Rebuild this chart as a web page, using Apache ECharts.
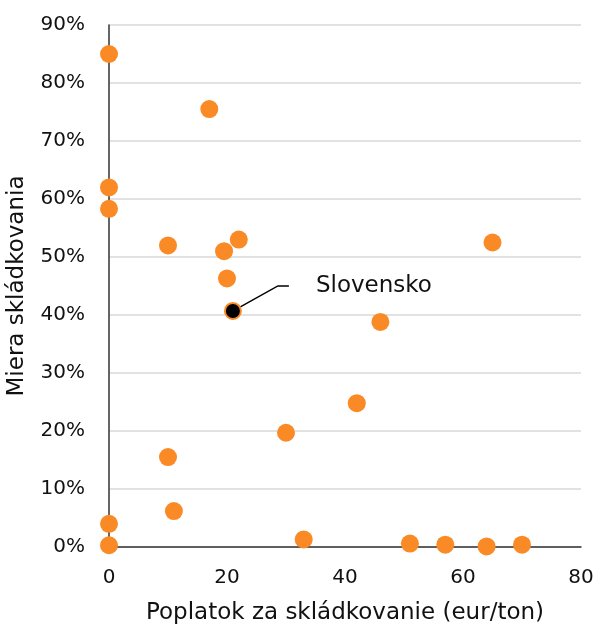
<!DOCTYPE html>
<html>
<head>
<meta charset="utf-8">
<script src="https://cdn.jsdelivr.net/npm/echarts@6/dist/echarts.min.js"></script>
<style>html,body{margin:0;padding:0;background:#fff;}#c{width:598px;height:625px;}</style>
</head>
<body>
<div id="c"></div>
<script>
var fees = [0, 0, 0, 0, 0, 17, 10, 19.5, 22, 20, 46, 65, 42, 30, 10, 11, 33, 51, 57, 64, 70];
var rates = [85, 62, 58.3, 4, 0.3, 75.5, 52, 51, 53, 46.3, 38.8, 52.5, 24.8, 19.7, 15.5, 6.2, 1.3, 0.6, 0.4, 0.1, 0.4];
var highlightName = 'Slovensko';
var highlightFee = 21;
var highlightRate = 40.7;
var xTicks = [0, 20, 40, 60, 80];
var yTicks = [0, 10, 20, 30, 40, 50, 60, 70, 80, 90];

var FONT = 'DejaVu Sans';
var chart = echarts.init(document.getElementById('c'));
var pts = fees.map(function (f, i) { return [f, rates[i]]; });
chart.setOption({
  animation: false,
  grid: { left: 109, right: 17, top: 25, bottom: 78, containLabel: false, outerBoundsMode: 'none' },
  xAxis: {
    type: 'value', min: xTicks[0], max: xTicks[xTicks.length - 1], interval: xTicks[1] - xTicks[0],
    name: 'Poplatok za skládkovanie (eur/ton)',
    nameLocation: 'middle', nameGap: 55,
    nameTextStyle: { color: '#111', fontSize: 23, fontFamily: FONT, verticalAlign: 'top' },
    axisLine: { show: true, onZero: false, lineStyle: { color: '#333', width: 1.5 } },
    axisTick: { show: false },
    splitLine: { show: false },
    axisLabel: { color: '#111', fontSize: 20, fontFamily: FONT, margin: 21 }
  },
  yAxis: {
    type: 'value', min: yTicks[0], max: yTicks[yTicks.length - 1], interval: yTicks[1] - yTicks[0],
    name: 'Miera skládkovania',
    nameLocation: 'middle', nameGap: 80,
    nameTextStyle: { color: '#111', fontSize: 23, fontFamily: FONT },
    axisLine: { show: true, lineStyle: { color: '#333', width: 1.5 } },
    axisTick: { show: false },
    splitLine: { show: true, lineStyle: { color: '#d9d9d9', width: 1.5 } },
    axisLabel: { color: '#111', fontSize: 20, fontFamily: FONT, margin: 24, formatter: '{value}%' }
  },
  series: [
    {
      type: 'scatter', symbolSize: 18,
      itemStyle: { color: '#F98A25', opacity: 1 },
      data: pts, z: 3
    },
    {
      type: 'scatter', symbolSize: 16,
      itemStyle: { color: '#000', borderColor: '#F98A25', borderWidth: 2, opacity: 1 },
      data: [{ value: [highlightFee, highlightRate], name: highlightName }],
      z: 4,
      label: {
        show: true, position: 'right',
        formatter: function (p) { return '{gap|}{name|' + p.name + '}'; },
        rich: {
          gap: { width: 27 },
          name: { color: '#111', fontSize: 23, fontFamily: FONT }
        }
      },
      labelLayout: { dx: 42, dy: -25 },
      labelLine: { show: true, length2: 11, lineStyle: { color: '#000', width: 1.5 } }
    }
  ]
});
</script>
</body>
</html>
